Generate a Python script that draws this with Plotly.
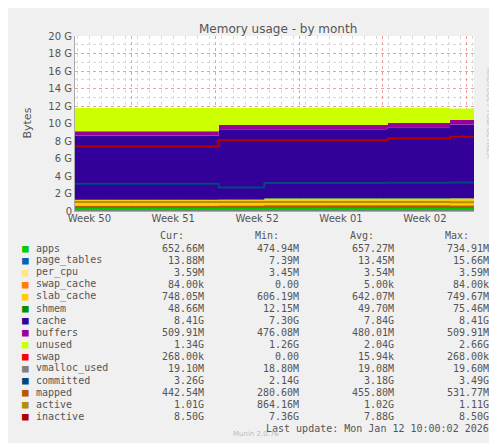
import plotly.graph_objects as go

G = 1024 ** 3

# step change points, in days from Mon 8 Dec 2025
days = [-1.2, 10.7, 10.8, 14.5, 14.6, 19.5, 24.8, 24.9, 30.0, 30.1, 32.1]

apps = [0.62, 0.62, 0.64, 0.64, 0.66, 0.66, 0.66, 0.66, 0.66, 0.65, 0.65]
page_tables = [0.013] * 11
per_cpu = [0.0035] * 11
swap_cache = [0.0] * 11
slab_cache = [0.61, 0.61, 0.61, 0.61, 0.73, 0.73, 0.73, 0.73, 0.73, 0.75, 0.75]
shmem = [0.05] * 11
cache = [7.33, 7.33, 8.02, 8.02, 7.90, 7.90, 7.92, 8.12, 8.12, 8.41, 8.41]
buffers = [0.48, 0.48, 0.48, 0.48, 0.48, 0.48, 0.48, 0.48, 0.48, 0.51, 0.51]
unused = [2.66, 2.66, 1.96, 1.96, 1.95, 1.95, 1.93, 1.73, 1.73, 1.34, 1.34]
swap = [0.0] * 11

vmalloc_used = [0.019] * 11
committed = [3.12, 3.12, 2.70, 2.70, 3.20, 3.20, 3.22, 3.22, 3.22, 3.26, 3.26]
mapped = [0.45] * 11
active = [1.02, 1.02, 1.02, 1.02, 1.02, 1.02, 1.02, 1.02, 1.02, 1.01, 1.01]
inactive = [7.36, 7.36, 8.10, 8.10, 8.10, 8.10, 8.10, 8.30, 8.30, 8.50, 8.50]

stacked = [
    ("apps", apps, "#00CC00"),
    ("page_tables", page_tables, "#0066B3"),
    ("per_cpu", per_cpu, "#FFE680"),
    ("swap_cache", swap_cache, "#FF8000"),
    ("slab_cache", slab_cache, "#FFCC00"),
    ("shmem", shmem, "#008F00"),
    ("cache", cache, "#330099"),
    ("buffers", buffers, "#990099"),
    ("unused", unused, "#CCFF00"),
    ("swap", swap, "#FF0000"),
]
lines = [
    ("vmalloc_used", vmalloc_used, "#808080"),
    ("committed", committed, "#00487D"),
    ("mapped", mapped, "#B35A00"),
    ("active", active, "#B38F00"),
    ("inactive", inactive, "#B30000"),
]

table = [
    ("652.66M", "474.94M", "657.27M", "734.91M"),
    ("13.88M", "7.39M", "13.45M", "15.66M"),
    ("3.59M", "3.45M", "3.54M", "3.59M"),
    ("84.00k", "0.00", "5.00k", "84.00k"),
    ("748.05M", "606.19M", "642.07M", "749.67M"),
    ("48.66M", "12.15M", "49.70M", "75.46M"),
    ("8.41G", "7.30G", "7.84G", "8.41G"),
    ("509.91M", "476.08M", "480.01M", "509.91M"),
    ("1.34G", "1.26G", "2.04G", "2.66G"),
    ("268.00k", "0.00", "15.94k", "268.00k"),
    ("19.10M", "18.80M", "19.08M", "19.60M"),
    ("3.26G", "2.14G", "3.18G", "3.49G"),
    ("442.54M", "280.60M", "455.80M", "531.77M"),
    ("1.01G", "864.16M", "1.02G", "1.11G"),
    ("8.50G", "7.36G", "7.88G", "8.50G"),
]

week_labels = ["Week 50", "Week 51", "Week 52", "Week 01", "Week 02"]
week_label_pos = [0, 7, 14, 21, 28]
week_lines = [3.5, 10.5, 17.5, 24.5, 31.5]

# plot area in pixels
PL, PR, PT, PB = 67, 466, 28, 203


def px(x):
    return (x - PL) / (PR - PL)


def py(y):
    return (PB - y) / (PB - PT)


fig = go.Figure()
for name, vals, col in stacked:
    fig.add_trace(go.Scatter(
        x=days, y=[v * G for v in vals], name=name, stackgroup="mem",
        mode="lines", line=dict(width=0, color=col, shape="hv"),
        fillcolor=col,
    ))
for name, vals, col in lines:
    fig.add_trace(go.Scatter(
        x=days, y=[v * G for v in vals], name=name, mode="lines",
        line=dict(width=2, color=col, shape="hv"),
    ))
# invisible trace to carry week labels on second axis
fig.add_trace(go.Scatter(x=[days[0]], y=[0], xaxis="x2", mode="markers",
                         marker=dict(opacity=0), showlegend=False, hoverinfo="skip"))

mono = "DejaVu Sans Mono"
ann = []
row_h = 12
for col_name, xr in [("Cur:", 198), ("Min:", 293), ("Avg:", 388), ("Max:", 483)]:
    ann.append(dict(x=xr - 20, y=227, text=col_name, xanchor="right"))
all_items = stacked + lines
for i, ((name, _, col), vals) in enumerate(zip(all_items, table)):
    yy = 240 + i * row_h
    ann.append(dict(x=12, y=yy, text="■", xanchor="left", color=col, size=11))
    ann.append(dict(x=26, y=yy, text=name, xanchor="left"))
    for v, xr in zip(vals, [198, 293, 388, 483]):
        ann.append(dict(x=xr, y=yy, text=v, xanchor="right"))
ann.append(dict(x=483, y=420, text="Last update: Mon Jan 12 10:00:02 2026", xanchor="right"))

annotations = []
for a in ann:
    annotations.append(dict(
        xref="paper", yref="paper", x=px(a["x"]), y=py(a["y"]),
        text=a["text"], xanchor=a["xanchor"], yanchor="middle", showarrow=False,
        font=dict(family=mono, size=a.get("size", 10), color=a.get("color", "#555555")),
    ))
annotations.append(dict(xref="paper", yref="paper", x=px(270), y=py(12),
                        text="Memory usage - by month", showarrow=False,
                        font=dict(family="DejaVu Sans", size=12, color="#555555")))
annotations.append(dict(xref="paper", yref="paper", x=px(10), y=py(115),
                        text="Bytes", textangle=-90, showarrow=False,
                        font=dict(family="DejaVu Sans", size=11, color="#555555")))
annotations.append(dict(xref="paper", yref="paper", x=px(487), y=py(58),
                        text="RRDTOOL / TOBI OETIKER", textangle=90, showarrow=False,
                        font=dict(family="DejaVu Sans", size=7, color="#BBBBBB")))
annotations.append(dict(xref="paper", yref="paper", x=px(248), y=py(432),
                        text="Munin 2.0.76", showarrow=False,
                        font=dict(family="DejaVu Sans", size=7, color="#BBBBBB")))

fig.update_layout(
    width=497, height=443,
    margin=dict(l=PL, r=497 - PR, t=PT, b=443 - PB, autoexpand=False),
    paper_bgcolor="#F0F0F0", plot_bgcolor="white",
    showlegend=False,
    annotations=annotations,
    xaxis=dict(range=[days[0], days[-1]], tickvals=week_lines, showticklabels=False,
               showgrid=True, gridcolor="#E8A0A0", griddash="dot", zeroline=False,
               ticks="", automargin=False,
               minor=dict(dtick=1, tick0=0, showgrid=True,
                          gridcolor="#D8D8D8", griddash="dot"),
               showline=True, linecolor="#AAAAAA"),
    xaxis2=dict(range=[days[0], days[-1]], overlaying="x", tickvals=week_label_pos,
                ticktext=week_labels, showgrid=False, zeroline=False, side="bottom",
                automargin=False,
                tickfont=dict(family="DejaVu Sans", size=10, color="#555555"), ticks=""),
    yaxis=dict(range=[0, 20 * G], tickvals=[i * 2 * G for i in range(11)],
               ticktext=["0"] + [f"{i * 2} G" for i in range(1, 11)],
               showgrid=True, gridcolor="#E8A0A0", griddash="dot", zeroline=False,
               automargin=False,
               minor=dict(dtick=G, showgrid=True, gridcolor="#D8D8D8", griddash="dot"),
               tickfont=dict(family="DejaVu Sans", size=10, color="#555555"),
               showline=True, linecolor="#AAAAAA"),
)

fig.write_html("out.html")
